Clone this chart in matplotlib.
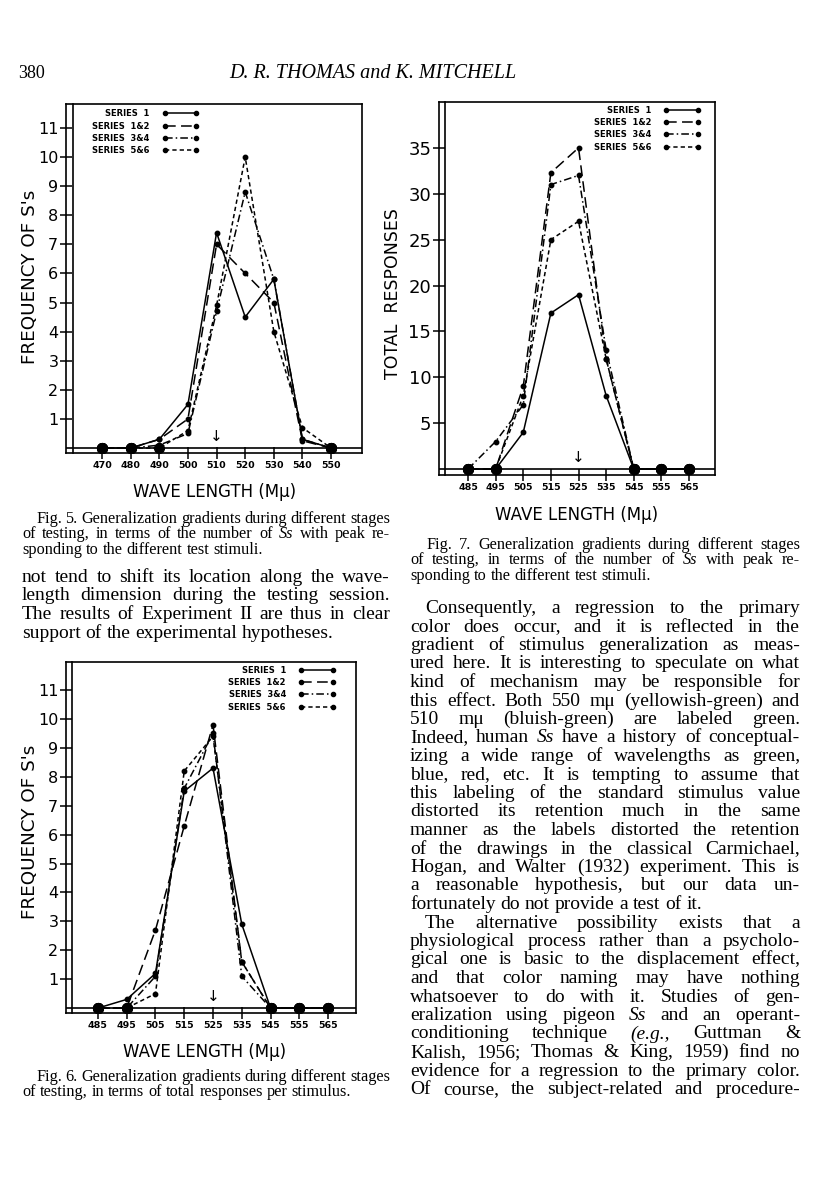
import matplotlib
matplotlib.use('Agg')
import matplotlib.pyplot as plt
from matplotlib.lines import Line2D

# ---------------- data ----------------
series_labels = ['SERIES  1', 'SERIES  1&2', 'SERIES  3&4', 'SERIES  5&6']

# Fig. 5 : frequency of Ss with peak responding
fig5_wl = [470, 480, 490, 500, 510, 520, 530, 540, 550]
fig5_s1 = [0, 0, 0.3, 1.5, 7.4, 4.5, 5.8, 0.3, 0]
fig5_s12 = [0, 0, 0.3, 1.0, 7.0, 6.0, 5.0, 0.25, 0]
fig5_s34 = [0, 0, 0.1, 0.5, 4.7, 8.8, 5.8, 0.3, 0]
fig5_s56 = [0, 0, 0.0, 0.6, 4.9, 10.0, 4.0, 0.7, 0]
fig5_yticks = [1, 2, 3, 4, 5, 6, 7, 8, 9, 10, 11]
fig5_std = 510

# Fig. 6 : total responses per stimulus (frequency axis)
fig6_wl = [485, 495, 505, 515, 525, 535, 545, 555, 565]
fig6_s1 = [0, 0.3, 1.2, 7.5, 8.3, 2.9, 0, 0, 0]
fig6_s12 = [0, 0, 2.7, 6.3, 9.8, 1.6, 0, 0, 0]
fig6_s34 = [0, 0, 1.1, 7.6, 9.5, 1.1, 0, 0, 0]
fig6_s56 = [0, 0, 0.5, 8.2, 9.4, 1.6, 0, 0, 0]
fig6_yticks = [1, 2, 3, 4, 5, 6, 7, 8, 9, 10, 11]
fig6_std = 525

# Fig. 7 : total responses
fig7_wl = [485, 495, 505, 515, 525, 535, 545, 555, 565]
fig7_s1 = [0, 0, 4, 17, 19, 8, 0, 0, 0]
fig7_s12 = [0, 0, 9, 32.3, 35, 12, 0, 0, 0]
fig7_s34 = [0, 3, 7, 31, 32, 13, 0, 0, 0]
fig7_s56 = [0, 0, 8, 25, 27, 12, 0, 0, 0]
fig7_yticks = [5, 10, 15, 20, 25, 30, 35]
fig7_std = 525

# ---------------- figure ----------------
W, H = 816, 1188
fig = plt.figure(figsize=(W / 100, H / 100), dpi=100)
fig.patch.set_facecolor('white')

line_styles = ['-', (0, (7, 3.5)), (0, (5, 2, 1, 2)), (0, (2.8, 2))]
SANS = 'DejaVu Sans'
SERIF = ['Liberation Serif', 'DejaVu Serif']


def ax_box(l, t, r, b):
    return fig.add_axes([l / W, 1 - b / H, (r - l) / W, (b - t) / H])


def draw_chart(ax, wl, series, xlim, ylim, yticks, std, inner_frac,
               ytick_size, leg_anchor):
    ax.set_xlim(*xlim)
    ax.set_ylim(*ylim)
    for sp in ax.spines.values():
        sp.set_linewidth(1.2)
    # inner frame lines (double-ruled axes)
    ax.axhline(0, color='black', lw=1.2, zorder=1)
    ax.plot([inner_frac, inner_frac], [0, 1], transform=ax.transAxes,
            color='black', lw=1.2, clip_on=False)
    for ys, st in zip(series, line_styles):
        ax.plot(wl, ys, color='black', ls=st, lw=1.1, marker='o', ms=3.2,
                zorder=3)
        zx = [w for w, v in zip(wl, ys) if v == 0]
        ax.plot(zx, [0] * len(zx), ls='none', marker='o', ms=7,
                color='black', zorder=4)
    ax.set_xticks(wl)
    ax.set_xticklabels([str(w) for w in wl], fontsize=6.8,
                       fontweight='bold', family=SANS)
    ax.set_yticks(yticks)
    ax.set_yticklabels([str(t) for t in yticks], fontsize=ytick_size,
                       family=SANS)
    ax.tick_params(axis='both', direction='inout', length=9, width=1.1)
    ax.tick_params(axis='x', pad=1)
    ax.tick_params(axis='y', pad=1)
    ax.text(std, 0.012 * (ylim[1] - ylim[0]), '\u2193', ha='center',
            va='bottom', fontsize=11, family=SANS)
    handles = [Line2D([], [], color='black', ls=st, lw=1.1, marker='o',
                      ms=3) for st in line_styles]
    ax.legend(handles, series_labels, loc='upper left',
              bbox_to_anchor=leg_anchor, frameon=False, markerfirst=False,
              numpoints=2, handlelength=4.4, handletextpad=1.5,
              labelspacing=0.4, borderpad=0, borderaxespad=0,
              prop=dict(family=SANS, weight='bold', size=6))


# Fig. 5 axes
ax5 = ax_box(66, 104, 362, 453)
draw_chart(ax5, fig5_wl, [fig5_s1, fig5_s12, fig5_s34, fig5_s56],
           (457.4, 560.8), (-0.17, 11.82), fig5_yticks, fig5_std, 0.024,
           11.5, (0.088, 0.985))

# Fig. 7 axes
ax7 = ax_box(439, 102, 715, 475)
draw_chart(ax7, fig7_wl, [fig7_s1, fig7_s12, fig7_s34, fig7_s56],
           (474.5, 574.4), (-0.65, 40.0), fig7_yticks, fig7_std, 0.022,
           13, (0.56, 0.99))

# Fig. 6 axes
ax6 = ax_box(66, 662, 356, 1013)
draw_chart(ax6, fig6_wl, [fig6_s1, fig6_s12, fig6_s34, fig6_s56],
           (473.9, 574.7), (-0.17, 11.97), fig6_yticks, fig6_std, 0.021,
           11.5, (0.56, 0.99))


def ftext(x, y, s, **kw):
    return fig.text(x / W, 1 - y / H, s, **kw)


# axis titles
ftext(30, 277, "FREQUENCY OF S's", rotation=90, ha='center', va='center',
      fontsize=13.2, family=SANS)
ftext(30, 832, "FREQUENCY OF S's", rotation=90, ha='center', va='center',
      fontsize=13.2, family=SANS)
ftext(393, 294, 'TOTAL  RESPONSES', rotation=90, ha='center', va='center',
      fontsize=12.5, family=SANS)
ftext(215, 492, 'WAVE LENGTH (M\u03bc)', ha='center', va='center',
      fontsize=12, family=SANS)
ftext(577, 515, 'WAVE LENGTH (M\u03bc)', ha='center', va='center',
      fontsize=12, family=SANS)
ftext(205, 1052, 'WAVE LENGTH (M\u03bc)', ha='center', va='center',
      fontsize=12, family=SANS)

# header
ftext(18, 78, '380', ha='left', va='baseline', fontsize=13, family=SERIF)
ftext(373, 78, 'D. R. THOMAS and K. MITCHELL', ha='center', va='baseline',
      fontsize=14.5, family=SERIF, style='italic')

# ---------------- justified text blocks ----------------
pending = []


def add_block(lines, x0, x1, y0, dy, size):
    """lines: list of (text, justify, indent)"""
    for i, (txt, just, ind) in enumerate(lines):
        y = y0 + dy * i
        objs = []
        for w in txt.split(' '):
            style = 'normal'
            if w.startswith('_'):
                w = w[1:]
                style = 'italic'
            objs.append(ftext(0, y, w, ha='left', va='baseline', fontsize=size,
                              family=SERIF, style=style))
        pending.append((objs, x0 + ind, x1, just, size))


CAP = 11.7
BODY = 14.0

cap5 = [("Fig. 5. Generalization gradients during different stages", True, 14),
        ("of testing, in terms of the number of _Ss with peak re-", True, 0),
        ("sponding to the different test stimuli.", False, 0)]
add_block(cap5, 22, 390, 523, 15.5, CAP)

body_left = [("not tend to shift its location along the wave-", True, 0),
             ("length dimension during the testing session.", True, 0),
             ("The results of Experiment II are thus in clear", True, 0),
             ("support of the experimental hypotheses.", False, 0)]
add_block(body_left, 22, 390, 582, 18.5, BODY)

cap6 = [("Fig. 6. Generalization gradients during different stages", True, 14),
        ("of testing, in terms of total responses per stimulus.", False, 0)]
add_block(cap6, 22, 390, 1081, 15.5, CAP)

cap7 = [("Fig. 7. Generalization gradients during different stages", True, 16),
        ("of testing, in terms of the number of _Ss with peak re-", True, 0),
        ("sponding to the different test stimuli.", False, 0)]
add_block(cap7, 410, 800, 549, 15.5, CAP)

body_right = [
    ("Consequently, a regression to the primary", True, 15),
    ("color does occur, and it is reflected in the", True, 0),
    ("gradient of stimulus generalization as meas-", True, 0),
    ("ured here. It is interesting to speculate on what", True, 0),
    ("kind of mechanism may be responsible for", True, 0),
    ("this effect. Both 550 m\u03bc (yellowish-green) and", True, 0),
    ("510 m\u03bc (bluish-green) are labeled green.", True, 0),
    ("Indeed, human _Ss have a history of conceptual-", True, 0),
    ("izing a wide range of wavelengths as green,", True, 0),
    ("blue, red, etc. It is tempting to assume that", True, 0),
    ("this labeling of the standard stimulus value", True, 0),
    ("distorted its retention much in the same", True, 0),
    ("manner as the labels distorted the retention", True, 0),
    ("of the drawings in the classical Carmichael,", True, 0),
    ("Hogan, and Walter (1932) experiment. This is", True, 0),
    ("a reasonable hypothesis, but our data un-", True, 0),
    ("fortunately do not provide a test of it.", False, 0),
    ("The alternative possibility exists that a", True, 15),
    ("physiological process rather than a psycholo-", True, 0),
    ("gical one is basic to the displacement effect,", True, 0),
    ("and that color naming may have nothing", True, 0),
    ("whatsoever to do with it. Studies of gen-", True, 0),
    ("eralization using pigeon _Ss and an operant-", True, 0),
    ("conditioning technique _(e.g., Guttman &", True, 0),
    ("Kalish, 1956; Thomas & King, 1959) find no", True, 0),
    ("evidence for a regression to the primary color.", True, 0),
    ("Of course, the subject-related and procedure-", True, 0),
]
add_block(body_right, 410, 800, 613, 18.5, BODY)

renderer = fig.canvas.get_renderer()
for objs, x0, x1, just, size in pending:
    widths = [o.get_window_extent(renderer).width for o in objs]
    space = size * 100 / 72 * 0.25
    if just and len(objs) > 1:
        gap = (x1 - x0 - sum(widths)) / (len(objs) - 1)
    else:
        gap = space
    x = x0
    for o, w in zip(objs, widths):
        o.set_x(x / W)
        x += w + gap

fig.savefig('out.png', dpi=100, facecolor='white')
